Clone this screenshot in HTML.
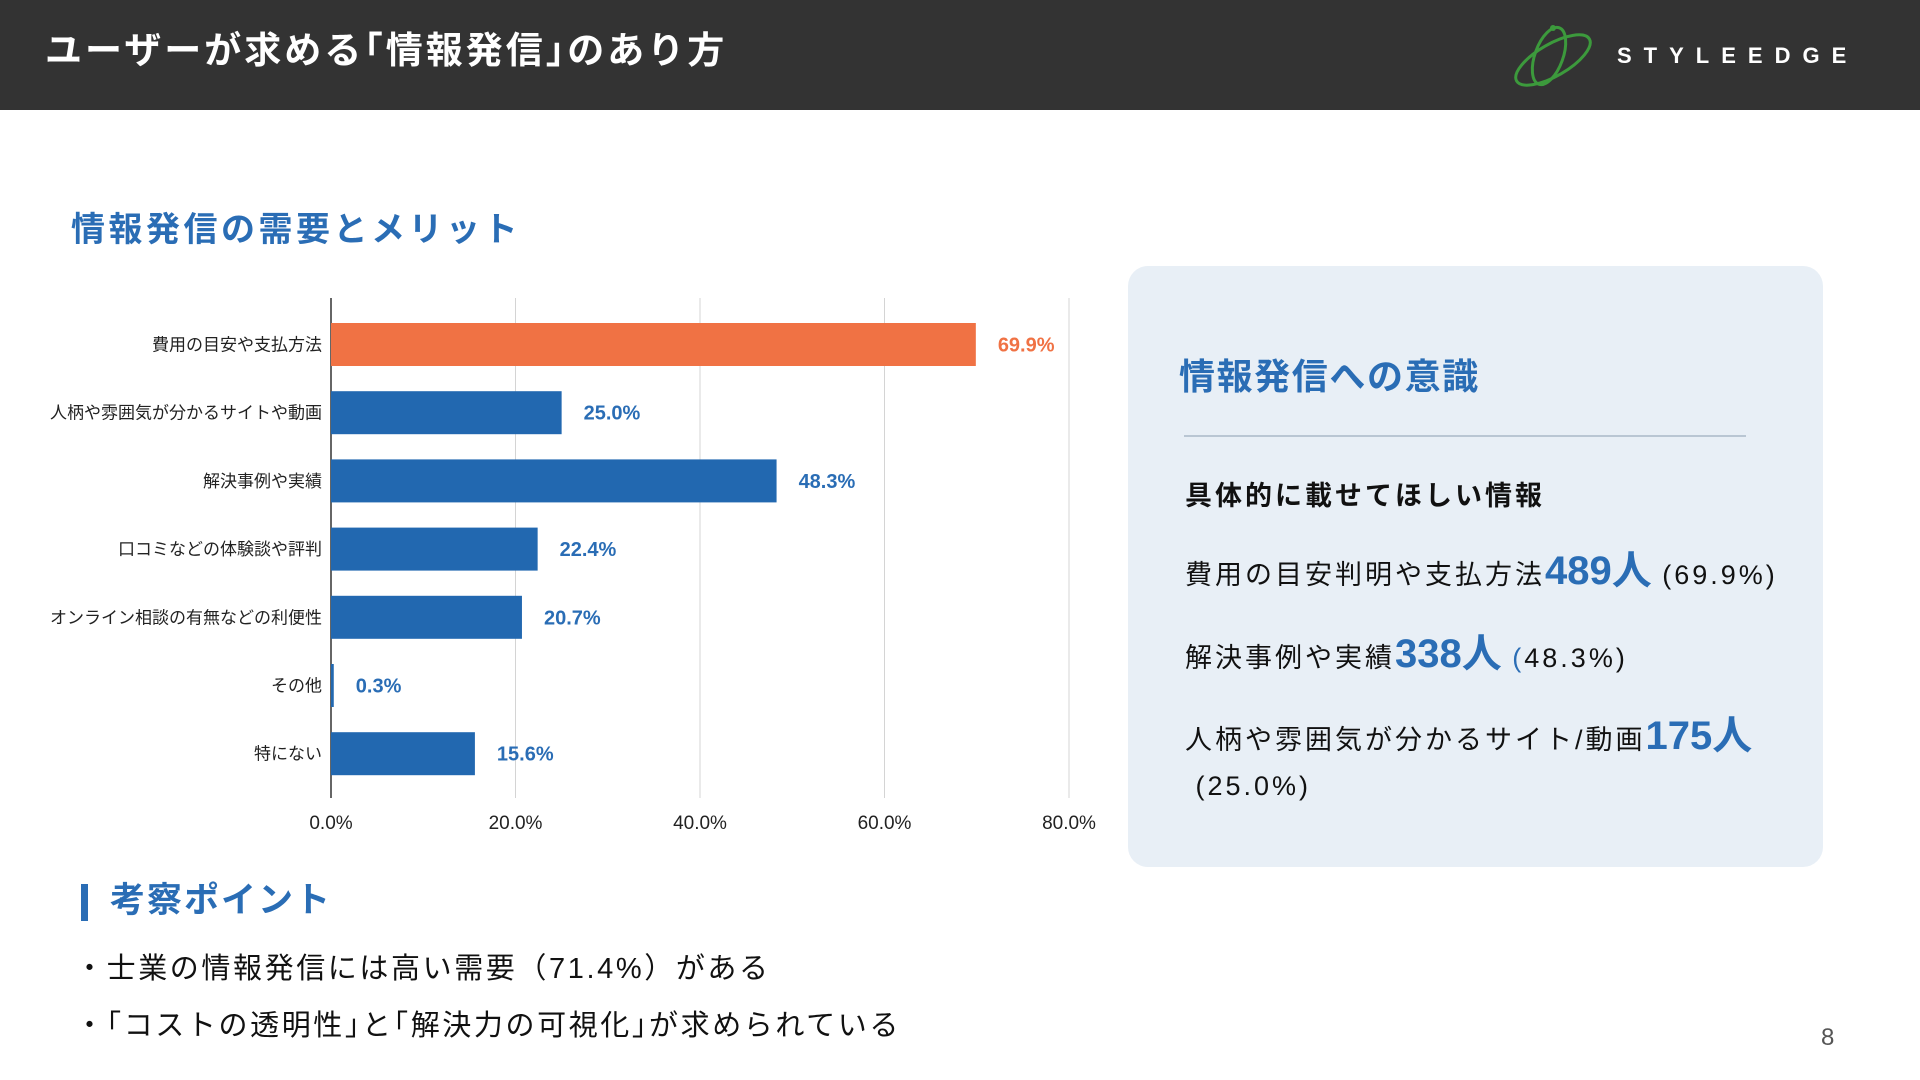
<!DOCTYPE html>
<html><head><meta charset="utf-8">
<style>
*{margin:0;padding:0;box-sizing:border-box}
body{width:1920px;height:1080px;background:#fff;position:relative;overflow:hidden;font-family:"Liberation Sans","Noto Sans CJK JP",sans-serif;color:#111}
.abs{position:absolute;white-space:nowrap}
.header{left:0;top:0;width:1920px;height:110px;background:#333}
.blue{color:#2a6db5}
.num{color:#2a6db5;font-weight:bold;font-size:40px;letter-spacing:0}
</style></head><body>
<div class="abs header"></div>
<div class="abs" style="left:45px;top:30px;font-size:37px;font-weight:bold;color:#fff;line-height:42px;letter-spacing:3px">ユーザーが求める｢情報発信｣のあり方</div>
<svg class="abs" style="left:1505px;top:22px" width="96" height="68" viewBox="0 0 96 68">
<ellipse cx="48" cy="38" rx="42" ry="16" transform="rotate(-30 48 38)" fill="none" stroke="#3c9a3c" stroke-width="3"/>
<ellipse cx="44" cy="34" rx="14" ry="30" transform="rotate(20 44 34)" fill="none" stroke="#3c9a3c" stroke-width="3"/>
<circle cx="48" cy="6" r="3" fill="#3c9a3c"/></svg>
<div class="abs" style="left:1617px;top:44px;font-size:22px;font-weight:bold;color:#fff;letter-spacing:12px;line-height:24px">STYLEEDGE</div>

<div class="abs blue" style="left:71px;top:209px;font-size:34px;font-weight:bold;line-height:42px;letter-spacing:3.5px">情報発信の需要とメリット</div>

<svg class="abs" id="chart" style="left:0;top:280px" width="1120" height="570"></svg>

<div class="abs" style="left:1128px;top:266px;width:695px;height:601px;background:#e8eff6;border-radius:20px"></div>
<div class="abs blue" style="left:1179px;top:356px;font-size:36px;font-weight:bold;line-height:42px;letter-spacing:1.6px">情報発信への意識</div>
<div class="abs" style="left:1184px;top:435px;width:562px;height:2px;background:#b9c6d3"></div>
<div class="abs" style="left:1185px;top:480px;font-size:27px;font-weight:bold;line-height:32px;letter-spacing:3px">具体的に載せてほしい情報</div>
<div class="abs" style="left:1185px;top:548px;font-size:27px;line-height:46px;letter-spacing:3px">費用の目安判明や支払方法<span class="num">489人</span> (69.9%)</div>
<div class="abs" style="left:1185px;top:631px;font-size:27px;line-height:46px;letter-spacing:3px">解決事例や実績<span class="num">338人</span> <span class="blue">(</span>48.3%)</div>
<div class="abs" style="left:1185px;top:713px;font-size:27px;line-height:46px;letter-spacing:3px">人柄や雰囲気が分かるサイト/動画<span class="num">175人</span><br>&nbsp;(25.0%)</div>

<div class="abs" style="left:81px;top:884px;width:7px;height:37px;background:#2a6db5"></div>
<div class="abs blue" style="left:110px;top:880px;font-size:35px;font-weight:bold;line-height:42px;letter-spacing:2px">考察ポイント</div>
<div class="abs" style="left:75px;top:951px;font-size:29px;line-height:36px;letter-spacing:2.6px">・士業の情報発信には高い需要（71.4%）がある</div>
<div class="abs" style="left:75px;top:1008px;font-size:29px;line-height:36px;letter-spacing:2.6px">・｢コストの透明性｣と｢解決力の可視化｣が求められている</div>
<div class="abs" style="left:1821px;top:1024px;font-size:24px;color:#555;line-height:28px">8</div>

<script>
const categories=["費用の目安や支払方法","人柄や雰囲気が分かるサイトや動画","解決事例や実績","口コミなどの体験談や評判","オンライン相談の有無などの利便性","その他","特にない"];
const values=[69.9,25.0,48.3,22.4,20.7,0.3,15.6];
const highlight=[true,false,false,false,false,false,false];
const ticks=[0,20,40,60,80];
const tickLabels=["0.0%","20.0%","40.0%","60.0%","80.0%"];
const chartSvg=document.getElementById('chart');
const NS="http://www.w3.org/2000/svg";
const x0=331,xMax=80,pxW=1069-331,plotTop=18,plotBottom=518;
const xs=v=>x0+v/xMax*pxW;
const bandTop=43,band=68.2,barH=43;
const yc=i=>bandTop+band*i+barH/2;
function mk(tag,a){const e=document.createElementNS(NS,tag);for(const k in a)e.setAttribute(k,a[k]);chartSvg.appendChild(e);return e;}
ticks.forEach((tv,i)=>{
 const g=mk('line',{x1:xs(tv),x2:xs(tv),y1:plotTop,y2:plotBottom,stroke:i===0?'#333':'#d4d4d4','stroke-width':i===0?1.5:1});
 
 
 const l=mk('text',{x:xs(tv),y:549,'text-anchor':'middle','font-size':19,fill:'#222'});
 l.textContent=tickLabels[i];
 
 
});
categories.forEach((c,i)=>{
 const col=highlight[i]?'#f07244':'#2268b0';
 const r=mk('rect',{x:x0,y:yc(i)-barH/2,width:Math.max(xs(values[i])-x0,2),height:barH,fill:col});
 
 
 const lab=mk('text',{x:322,y:yc(i)+6,'text-anchor':'end','font-size':17,fill:'#222'});
 lab.textContent=c;
 
 
 const v=mk('text',{x:xs(values[i])+22,y:yc(i)+7,'font-size':20,'font-weight':'bold',fill:highlight[i]?'#f07244':'#2a6db5'});
 v.textContent=values[i].toFixed(1)+'%';
 
 
});
</script>
</body></html>
